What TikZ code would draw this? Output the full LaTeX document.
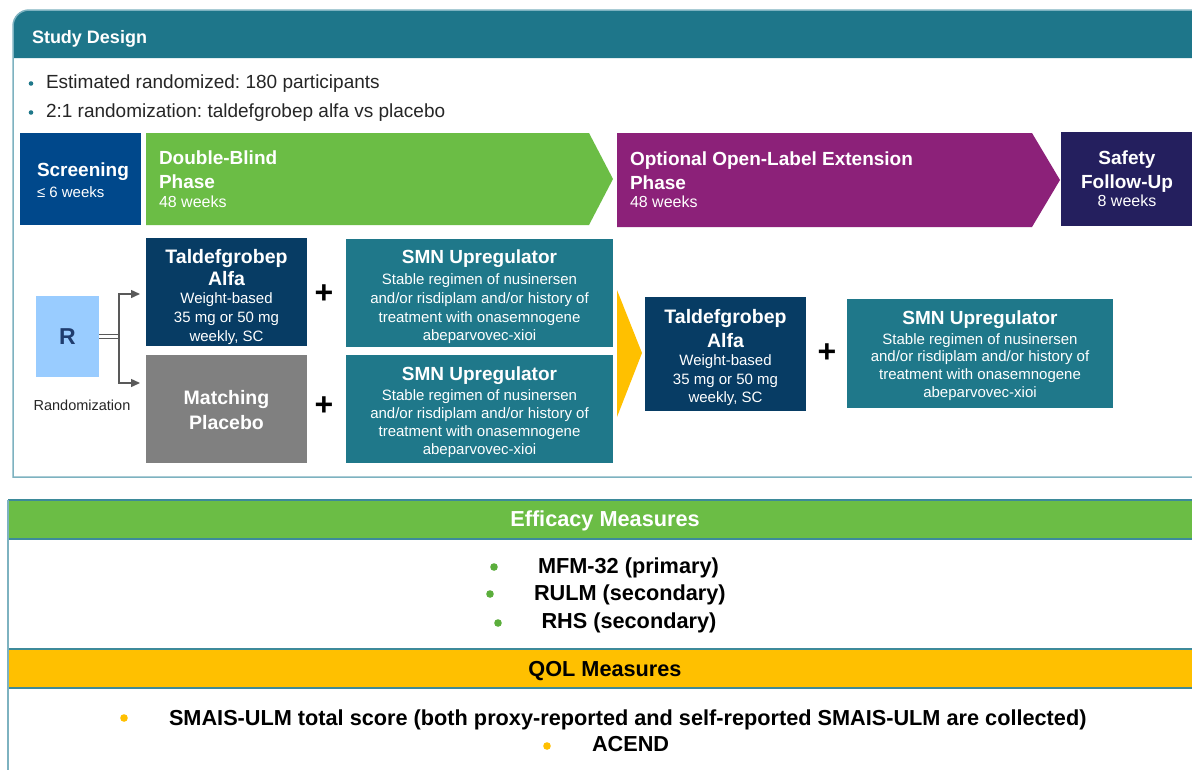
\documentclass[tikz,border=0pt]{standalone}
\usepackage{fontspec}
\setmainfont{Liberation Sans}
\usetikzlibrary{arrows.meta}
\definecolor{tealhd}{HTML}{1E768A}
\definecolor{tealbox}{HTML}{1F788A}
\definecolor{scrblue}{HTML}{00488B}
\definecolor{dbgreen}{HTML}{6BBD45}
\definecolor{olpurple}{HTML}{8C2179}
\definecolor{sfnavy}{HTML}{241F5E}
\definecolor{talnavy}{HTML}{073C64}
\definecolor{plgray}{HTML}{808080}
\definecolor{rblue}{HTML}{99CCFF}
\definecolor{rtext}{HTML}{1F3C6E}
\definecolor{qyellow}{HTML}{FFC000}
\definecolor{frameline}{HTML}{7DB2C0}
\definecolor{stripline}{HTML}{3D8A9A}
\definecolor{conngray}{HTML}{595959}
\definecolor{bulgreen}{HTML}{5BAE3C}
\newcommand\fsz[1]{\fontsize{#1}{#1}\selectfont}
\frenchspacing
\begin{document}
\frenchspacing
\begin{tikzpicture}[x=1pt,y=-1pt,
  box/.style={inner sep=0pt,outer sep=0pt,draw=none},
  tw/.style={inner sep=0pt,outer sep=0pt,anchor=base west,text=white},
  tc/.style={inner sep=0pt,outer sep=0pt,anchor=base,text=white},
  tk/.style={inner sep=0pt,outer sep=0pt,anchor=base west,text=black},
  ttl/.style={font=\bfseries\fsz{19}},
  boxt/.style={font=\bfseries\fsz{19.5}},
  sml/.style={font=\fsz{15}},
  smnt/.style={font=\bfseries\fsz{19}},
  btm/.style={font=\bfseries\fsz{21.7}},
  plus/.style={inner sep=0pt,outer sep=0pt,anchor=base,text=black,font=\bfseries\fsz{32}},
  conn/.style={draw=conngray,line width=1.4pt},
  tip/.style={-{Triangle[length=9pt,width=8pt]}}
]
\useasboundingbox (0,0) rectangle (1192,769);
\clip (0,0) rectangle (1192,769);
\fill[white] (0,0) rectangle (1192,769);

% ---------- Study design frame ----------
\fill[tealhd] (13,58) -- (13,26) .. controls (13,17.2) and (20.2,10) .. (29,10) -- (1215,10) -- (1215,58) -- cycle;
\draw[frameline,line width=1.5pt] (1215,477) -- (13,477) -- (13,26) .. controls (13,17.2) and (20.2,10) .. (29,10) -- (1215,10);
\node[tw,font=\bfseries\fsz{18}] (hdr) at (32,43.5) {Study Design};

\fill[tealbox] (31,83.5) circle[radius=2.3pt];
\fill[tealbox] (31,112.5) circle[radius=2.3pt];
\node[tk,font=\fsz{19},text=black!85] (b1) at (46,88.5) {Estimated randomized: 180 participants};
\node[tk,font=\fsz{19},text=black!85] (b2) at (46,117.5) {2:1 randomization: taldefgrobep alfa vs placebo};

% ---------- Phase bar ----------
\node[box,fill=scrblue,minimum width=121pt,minimum height=92pt] (scr) at (80.5,179) {};
\fill[dbgreen] (146,133) -- (589,133) -- (613,179) -- (589,225) -- (146,225) -- cycle;
\fill[olpurple] (617,133) -- (1032,133) -- (1060,180) -- (1032,227) -- (617,227) -- cycle;
\node[box,fill=sfnavy,minimum width=139pt,minimum height=94pt] (sfu) at (1130.5,179) {};

\node[tw,ttl] (scrA) at (37,176.7) {Screening};
\node[tw,sml] (scrB) at (37,197.4) {≤ 6 weeks};

\node[tw,ttl] (dbA) at (159,164.7) {Double-Blind};
\node[tw,ttl] (dbB) at (159,188.2) {Phase};
\node[tw,font=\fsz{16}] (dbC) at (159,207.8) {48 weeks};

\node[tw,ttl] (olA) at (630,165.7) {Optional Open-Label Extension};
\node[tw,ttl] (olB) at (630,189.2) {Phase};
\node[tw,font=\fsz{16}] (olC) at (630,207.8) {48 weeks};

\node[tc,ttl] (sfA) at (1127,164.7) {Safety};
\node[tc,ttl] (sfB) at (1127,188.2) {Follow-Up};
\node[tc,font=\fsz{16}] (sfC) at (1127,206.8) {8 weeks};

% ---------- Randomization ----------
\node[box,fill=rblue,minimum width=63pt,minimum height=81pt] (R) at (67.5,336.5) {};
\node[inner sep=0pt,anchor=base,text=rtext,font=\bfseries\fsz{23}] (Rt) at (67.5,344.8) {R};
\node[inner sep=0pt,anchor=base,text=black!85,font=\fsz{14.5}] (rnd) at (82,410.2) {Randomization};

\coordinate (split) at (119,336.5);
\coordinate (up) at (140,294);
\coordinate (dn) at (140,383);
\draw[draw=conngray,line width=1pt,double=white,double distance=2.6pt] (R.east) -- (split);
\draw[conn,tip] (split) |- (up);
\draw[conn,tip] (split) |- (dn);

% ---------- Arm boxes ----------
\node[box,fill=talnavy,minimum width=161pt,minimum height=108pt] (tal1) at (226.5,292) {};
\node[box,fill=plgray,minimum width=161pt,minimum height=108pt] (plac) at (226.5,409) {};
\node[box,fill=tealbox,minimum width=267pt,minimum height=108pt] (smn1) at (479.5,293) {};
\node[box,fill=tealbox,minimum width=267pt,minimum height=108pt] (smn2) at (479.5,409) {};

\node[tc,boxt] (t1a) at (226.5,263.7) {Taldefgrobep};
\node[tc,boxt] (t1b) at (226.5,285.5) {Alfa};
\node[tc,sml] (t1c) at (226.5,303.4) {Weight-based};
\node[tc,sml] (t1d) at (226.5,322.4) {35 mg or 50 mg};
\node[tc,sml] (t1e) at (226.5,341.2) {weekly, SC};

\node[tc,boxt] (p1a) at (226.5,404.7) {Matching};
\node[tc,boxt] (p1b) at (226.5,429.7) {Placebo};

\node[plus] (pl1) at (324,303.5) {+};
\node[plus] (pl2) at (324,415.5) {+};

\node[tc,smnt] (s1a) at (479.5,263.8) {SMN Upregulator};
\node[tc,sml] (s1b) at (479.5,284.4) {Stable regimen of nusinersen};
\node[tc,sml] (s1c) at (479.5,303.4) {and/or risdiplam and/or history of};
\node[tc,sml] (s1d) at (479.5,322.4) {treatment with onasemnogene};
\node[tc,sml] (s1e) at (479.5,340.4) {abeparvovec-xioi};

\node[tc,smnt] (s2a) at (479.5,380.8) {SMN Upregulator};
\node[tc,sml] (s2b) at (479.5,400.4) {Stable regimen of nusinersen};
\node[tc,sml] (s2c) at (479.5,418.4) {and/or risdiplam and/or history of};
\node[tc,sml] (s2d) at (479.5,436.4) {treatment with onasemnogene};
\node[tc,sml] (s2e) at (479.5,454.4) {abeparvovec-xioi};

% ---------- Extension ----------
\fill[qyellow] (617,290) -- (642,353) -- (617,417) -- cycle;
\node[box,fill=talnavy,minimum width=161pt,minimum height=114pt] (tal3) at (725.5,354) {};
\node[box,fill=tealbox,minimum width=266pt,minimum height=109pt] (smn3) at (980,353.5) {};
\node[plus] (pl3) at (827,362.5) {+};

\node[tc,boxt] (t3a) at (725.5,323.7) {Taldefgrobep};
\node[tc,boxt] (t3b) at (725.5,347.5) {Alfa};
\node[tc,sml] (t3c) at (725.5,365.4) {Weight-based};
\node[tc,sml] (t3d) at (725.5,384.4) {35 mg or 50 mg};
\node[tc,sml] (t3e) at (725.5,402.4) {weekly, SC};

\node[tc,smnt] (s3a) at (980,324.8) {SMN Upregulator};
\node[tc,sml] (s3b) at (980,344.4) {Stable regimen of nusinersen};
\node[tc,sml] (s3c) at (980,361.4) {and/or risdiplam and/or history of};
\node[tc,sml] (s3d) at (980,379.4) {treatment with onasemnogene};
\node[tc,sml] (s3e) at (980,397.4) {abeparvovec-xioi};

% ---------- Measures ----------
\fill[dbgreen] (8,500) rectangle (1215,539);
\fill[qyellow] (8,649) rectangle (1215,688);
\draw[stripline,line width=1.5pt] (8,500) -- (1215,500) (8,539) -- (1215,539) (8,649) -- (1215,649) (8,688) -- (1215,688);
\draw[frameline,line width=1.5pt] (8,500) -- (8,780);

\node[tc,btm] (eff) at (605,526.7) {Efficacy Measures};
\fill[bulgreen] (494,567) circle[radius=3.8pt];
\fill[bulgreen] (490,594) circle[radius=3.8pt];
\fill[bulgreen] (498,623) circle[radius=3.8pt];
\node[tk,btm] (e1) at (538,573.3) {MFM-32 (primary)};
\node[tk,btm] (e2) at (534,600.3) {RULM (secondary)};
\node[tk,btm] (e3) at (541.5,628.3) {RHS (secondary)};

\node[inner sep=0pt,anchor=base,text=black,btm] (qol) at (605,676.7) {QOL Measures};
\fill[qyellow] (124,718) circle[radius=3.8pt];
\fill[qyellow] (547,746) circle[radius=3.8pt];
\node[tk,btm] (q1) at (169,725) {SMAIS-ULM total score (both proxy-reported and self-reported SMAIS-ULM are collected)};
\node[tk,btm] (q2) at (592,751.7) {ACEND};
\end{tikzpicture}
\end{document}
